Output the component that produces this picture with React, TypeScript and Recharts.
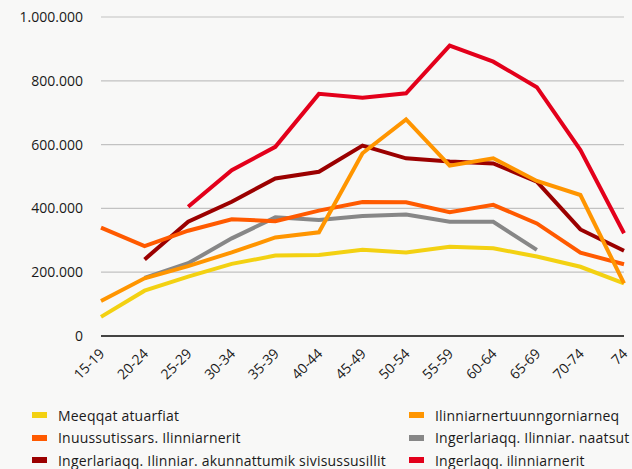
import React from 'react';
import { LineChart, Line, XAxis, YAxis, CartesianGrid } from 'recharts';

const ageGroups = ['15-19', '20-24', '25-29', '30-34', '35-39', '40-44', '45-49', '50-54', '55-59', '60-64', '65-69', '70-74', '74'];

const meeqqat = [60000, 142000, 186000, 226000, 252000, 254000, 270000, 262000, 280000, 275000, 249000, 217000, 165000];
const ilinniarnertuut = [110000, 181000, 219000, 262000, 309000, 325000, 573000, 679000, 534000, 557000, 486000, 442000, 165000];
const inuussutissars = [340000, 282000, 330000, 366000, 360000, 393000, 420000, 419000, 388000, 411000, 353000, 261000, 225000];
const naatsut = [null, 182000, 228000, 306000, 372000, 364000, 376000, 381000, 358000, 358000, 270000, null, null];
const akunnattumik = [null, 240000, 358000, 421000, 494000, 515000, 597000, 557000, 547000, 541000, 484000, 334000, 267000];
const ingerlaqq = [null, null, 405000, 520000, 593000, 759000, 747000, 761000, 910000, 860000, 780000, 583000, 322000];

const yTicks = [0, 200000, 400000, 600000, 800000, 1000000];

const series = [
  { key: 'meeqqat', name: 'Meeqqat atuarfiat', color: '#F3D112', values: meeqqat },
  { key: 'ilinniarnertuut', name: 'Ilinniarnertuunngorniarneq', color: '#FF9500', values: ilinniarnertuut },
  { key: 'inuussutissars', name: 'Inuussutissars. Ilinniarnerit', color: '#FF5A00', values: inuussutissars },
  { key: 'naatsut', name: 'Ingerlariaqq. Ilinniar. naatsut', color: '#878787', values: naatsut },
  { key: 'akunnattumik', name: 'Ingerlariaqq. Ilinniar. akunnattumik sivisussusillit', color: '#9B0000', values: akunnattumik },
  { key: 'ingerlaqq', name: 'Ingerlaqq. ilinniarnerit', color: '#E3001B', values: ingerlaqq },
];

const drawOrder = ['meeqqat', 'naatsut', 'akunnattumik', 'inuussutissars', 'ilinniarnertuut', 'ingerlaqq'];

const data = ageGroups.map((g, i) => {
  const row: any = { age: g };
  series.forEach((s) => {
    row[s.key] = s.values[i];
  });
  return row;
});

const FONT = '"Open Sans", sans-serif';

const fmt = (v: number) => (v === 0 ? '0' : v.toString().replace(/\B(?=(\d{3})+(?!\d))/g, '.'));

const XTick = (props: any) => {
  const { x, y, payload } = props;
  return (
    <g transform={`translate(${x + 1},${y + 15})`}>
      <text
        textAnchor="end"
        transform="rotate(-45)"
        dy="0.35em"
        fontSize={14}
        fontFamily={FONT}
        fill="#1a1a1a"
      >
        {payload.value}
      </text>
    </g>
  );
};

export default function App() {
  return (
    <div
      style={{
        position: 'absolute',
        left: 0,
        top: 0,
        width: 632,
        height: 469,
        background: '#f8f8f7',
        fontFamily: FONT,
      }}
    >
      <LineChart
        width={632}
        height={469}
        data={data}
        margin={{ top: 17, right: 8, left: 0, bottom: 73 }}
      >
        <CartesianGrid vertical={false} stroke="#c2c2c2" strokeWidth={1.2} />
        <XAxis
          dataKey="age"
          scale="point"
          padding={{ left: 0, right: 0 }}
          interval={0}
          height={60}
          tickLine={false}
          tickSize={0}
          tickMargin={0}
          axisLine={{ stroke: '#111111', strokeWidth: 1.6 }}
          tick={<XTick />}
        />
        <YAxis
          width={101}
          domain={[0, 1000000]}
          ticks={yTicks}
          tickFormatter={fmt}
          axisLine={false}
          tickLine={false}
          tickSize={0}
          tickMargin={18}
          tick={{ fill: '#1a1a1a', fontSize: 14, fontFamily: FONT }}
        />
        {drawOrder.map((k) => {
          const s = series.find((x) => x.key === k)!;
          return (
            <Line
              key={s.key}
              type="linear"
              dataKey={s.key}
              name={s.name}
              stroke={s.color}
              strokeWidth={4}
              dot={false}
              activeDot={false}
              isAnimationActive={false}
              connectNulls={false}
              strokeLinejoin="miter"
              strokeLinecap="butt"
            />
          );
        })}
      </LineChart>
      <div style={{ position: 'absolute', left: 0, top: 0, width: 632, height: 469, pointerEvents: 'none' }}>
        {series.map((s, i) => {
          const col = i % 2;
          const row = Math.floor(i / 2);
          const left = col === 0 ? 32 : 409;
          const cy = 415 + row * 22.5;
          return (
            <div
              key={s.key}
              style={{
                position: 'absolute',
                left,
                top: cy - 10,
                height: 20,
                display: 'flex',
                alignItems: 'center',
                whiteSpace: 'nowrap',
              }}
            >
              <div style={{ width: 15, height: 6, background: s.color, marginRight: 11 }} />
              <span style={{ fontSize: 14, color: '#1a1a1a', fontFamily: FONT, letterSpacing: 0.2 }}>{s.name}</span>
            </div>
          );
        })}
      </div>
    </div>
  );
}
